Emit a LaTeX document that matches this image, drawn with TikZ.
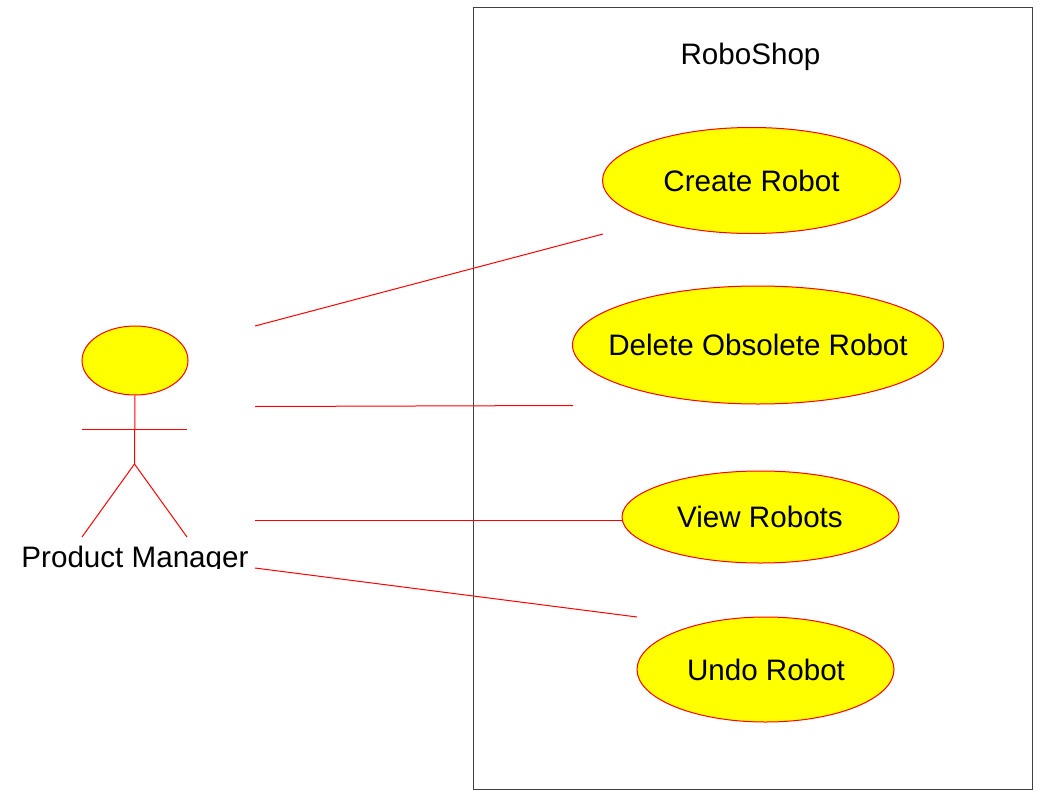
\documentclass[tikz,border=0pt]{standalone}
\usepackage{fontspec}
\setmainfont{Liberation Sans}
\usetikzlibrary{shapes.geometric}
\definecolor{ucfill}{RGB}{255,255,0}
\definecolor{ucline}{RGB}{255,0,0}
\tikzset{
  x=1pt,y=-1pt,
  usecase/.style={ellipse,draw=ucline,fill=ucfill,line width=1pt,inner sep=0pt},
  assoc/.style={draw=ucline,line width=1pt},
  lbl/.style={font=\fontsize{29.6}{34}\selectfont,inner sep=0pt,text=black}
}
\begin{document}
\begin{tikzpicture}
\useasboundingbox (0,0) rectangle (1058,806);
\fill[white] (0,0) rectangle (1058,806);
\node[draw=black!75,line width=1pt,minimum width=559pt,minimum height=782pt,inner sep=0pt] (sys) at (752.5,398) {};
\node[lbl] (title) at (750.5,57) {RoboShop};
\node[usecase,minimum width=298pt,minimum height=106pt] (create) at (751.5,180.5) {};
\node[lbl] (createt) at (751.5,181) {Create Robot};
\node[usecase,minimum width=371pt,minimum height=118pt] (delete) at (758,345) {};
\node[lbl] (deletet) at (758,345) {Delete Obsolete Robot};
\node[usecase,minimum width=277pt,minimum height=92pt] (view) at (760.5,517) {};
\node[lbl] (viewt) at (760,517) {View Robots};
\node[usecase,minimum width=257pt,minimum height=105pt] (undo) at (765.5,669.5) {};
\node[lbl] (undot) at (766,670) {Undo Robot};
\node[usecase,minimum width=106pt,minimum height=69pt] (head) at (135,360.5) {};
\coordinate (hip) at (134.5,464);
\coordinate (armL) at (82,429);
\coordinate (armR) at (187,429);
\coordinate (footL) at (82,537);
\coordinate (footR) at (187,537);
\draw[assoc] (head.south) -- (hip);
\draw[assoc] (armL) -- (armR);
\draw[assoc] (footL) -- (hip) -- (footR);
\begin{scope}
\clip (0,530) rectangle (300,568.5);
\node[lbl] (pm) at (135,560) {Product Manager};
\end{scope}
\coordinate (a1) at (255,326);
\coordinate (a2) at (255,406.5);
\coordinate (a3) at (255,520);
\coordinate (a4) at (255,568);
\coordinate (c1) at (603,234);
\coordinate (c2) at (573,405.5);
\coordinate (c3) at (622,520);
\coordinate (c4) at (637,617);
\draw[assoc] (a1) -- (c1);
\draw[assoc] (a2) -- (c2);
\draw[assoc] (a3) -- (c3);
\draw[assoc] (a4) -- (c4);
\end{tikzpicture}
\end{document}
